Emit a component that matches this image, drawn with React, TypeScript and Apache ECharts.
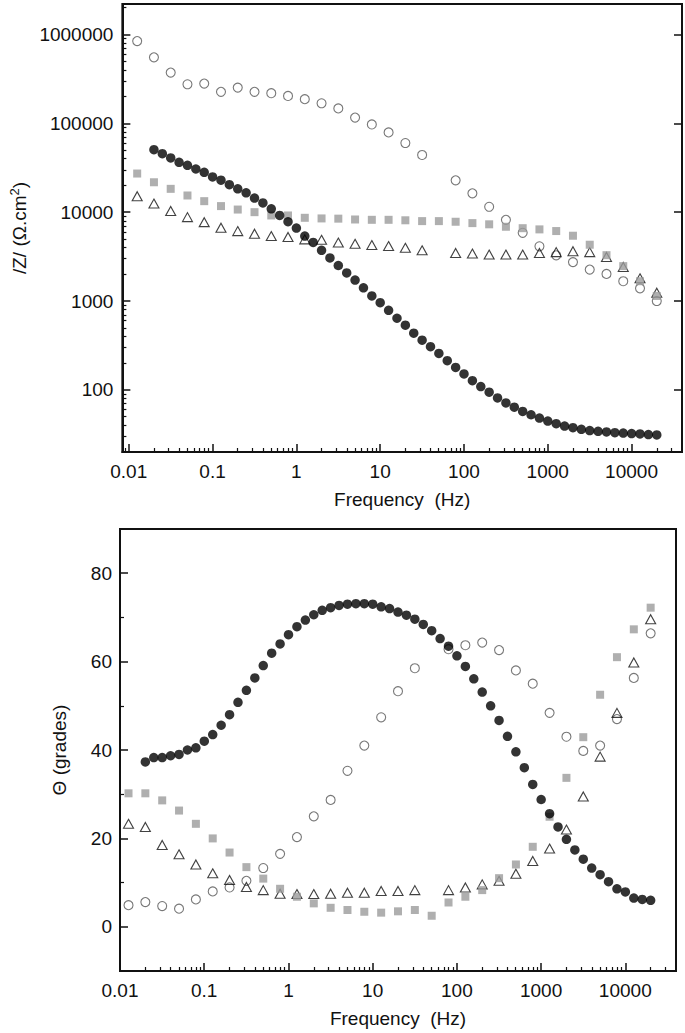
import React, { useEffect, useRef } from 'react';
import * as echarts from 'echarts';

// Frequencies (Hz)
const freqDense = [
  0.02, 0.02518, 0.0317, 0.03991, 0.05024, 0.06325, 0.07962, 0.1002, 0.1262, 0.1589,
  0.2, 0.2518, 0.317, 0.3991, 0.5024, 0.6325, 0.7962, 1.002, 1.262, 1.589,
  2, 2.518, 3.17, 3.991, 5.024, 6.325, 7.962, 10.02, 12.62, 15.89,
  20, 25.18, 31.7, 39.91, 50.24, 63.25, 79.62, 100.2, 126.2, 158.9,
  200, 251.8, 317, 399.1, 502.4, 632.5, 796.2, 1002, 1262, 1589,
  2000, 2518, 3170, 3991, 5024, 6325, 7962, 10020, 12620, 15890, 20000,
];
const freqSparse = [
  0.01262, 0.02, 0.0317, 0.05024, 0.07962, 0.1262, 0.2, 0.317, 0.5024, 0.7962,
  1.262, 2, 3.17, 5.024, 7.962, 12.62, 20, 31.7, 50.24, 79.62,
  126.2, 200, 317, 502.4, 796.2, 1262, 2000, 3170, 5024, 7962, 12620, 20000,
];

// |Z| (ohm.cm2)
const zFilled = [
  50400, 45500, 40700, 36400, 33700, 30600, 28100, 24900, 22900, 20400,
  18300, 16500, 14400, 12700, 10900, 9180, 7800, 6620, 5380, 4570,
  3720, 3050, 2510, 2070, 1720, 1410, 1140, 958, 787, 640,
  534, 435, 363, 306, 257, 213, 179, 151, 127, 109,
  94.1, 81.3, 71.4, 63.9, 57.2, 52.5, 48.2, 44.6, 41.6, 39.2,
  37.6, 36.0, 34.8, 34.2, 33.6, 33.0, 32.7, 32.2, 31.9, 31.4, 31.1,
];
const zOpenCircle = [
  841000, 552000, 372000, 275000, 280000, 226000, 252000, 226000, 218000, 203000,
  187000, 168000, 147000, 116000, 97000, 79000, 60000, 44000, null, 22800,
  16300, 11500, 8200, 5860, 4130, 3270, 2740, 2260, 2020, 1670, 1390, 1000,
];
const zSquare = [
  27200, 21700, 18300, 15400, 13300, 11700, 10700, 10000, 9180, 9180,
  8640, 8500, 8450, 8270, 8200, 8200, 8100, 7930, 7930, 7800,
  7530, 7300, 6850, 6600, 6400, 6130, 5430, 4300, 3280, 2470, 1670, 1140,
];
const zTriangle = [
  15100, 12500, 10300, 8790, 7720, 6670, 6120, 5710, 5380, 5250,
  4940, 4880, 4550, 4400, 4260, 4150, 3970, 3720, null, 3470,
  3420, 3330, 3330, 3330, 3470, 3550, 3630, 3550, 3130, 2420, 1800, 1240,
];

// Phase angle (grades)
const pFilled = [
  37.3, 38.3, 38.3, 38.7, 39.0, 40.0, 40.5, 42.0, 43.5, 45.6,
  48.0, 50.8, 53.5, 56.3, 59.1, 61.9, 64.0, 66.1, 67.9, 69.4,
  70.6, 71.6, 72.2, 72.7, 73.0, 73.1, 73.1, 73.0, 72.4, 72.0,
  71.2, 70.5, 69.6, 68.4, 67.0, 65.2, 63.5, 61.3, 58.9, 56.1,
  53.1, 50.0, 46.7, 43.1, 39.6, 36.0, 32.2, 28.8, 25.6, 22.6,
  19.8, 17.4, 15.3, 13.3, 11.8, 10.2, 8.6, 7.9, 6.5, 6.2, 6.0,
];
const pOpenCircle = [
  4.9, 5.6, 4.7, 4.1, 6.2, 8.0, 8.9, 10.4, 13.3, 16.5,
  20.3, 25.0, 28.7, 35.3, 41.0, 47.4, 53.3, 58.5, null, 62.8,
  63.7, 64.3, 62.6, 58.0, 55.0, 48.4, 43.0, 39.8, 41.0, 47.0, 56.3, 66.4,
];
const pSquare = [
  30.2, 30.2, 28.6, 26.3, 23.3, 20.0, 16.8, 13.5, 10.9, 8.6,
  6.8, 5.3, 4.3, 3.8, 3.4, 3.2, 3.5, 3.8, 2.5, 5.5,
  6.8, 8.3, 11.0, 14.1, 18.1, 24.9, 33.7, 42.9, 52.5, 61.0, 67.3, 72.2,
];
const pTriangle = [
  23.3, 22.6, 18.5, 16.4, 14.1, 12.1, 10.6, 9.0, 8.3, 7.5,
  7.4, 7.4, 7.5, 7.7, 7.7, 8.1, 8.1, 8.3, null, 8.3,
  8.9, 9.6, 10.4, 12.0, 14.9, 17.7, 22.0, 29.5, 38.5, 48.4, 59.8, 69.6,
];

// Ticks
const xMajor = [0.01, 0.1, 1, 10, 100, 1000, 10000];
const xTickLabels = ['0.01', '0.1', '1', '10', '100', '1000', '10000'];
const xMinor = [
  0.009, 0.02, 0.03, 0.04, 0.05, 0.06, 0.07, 0.08, 0.09,
  0.2, 0.3, 0.4, 0.5, 0.6, 0.7, 0.8, 0.9,
  2, 3, 4, 5, 6, 7, 8, 9,
  20, 30, 40, 50, 60, 70, 80, 90,
  200, 300, 400, 500, 600, 700, 800, 900,
  2000, 3000, 4000, 5000, 6000, 7000, 8000, 9000,
  20000, 30000,
];
const zMajor = [100, 1000, 10000, 100000, 1000000];
const zTickLabels = ['100', '1000', '10000', '100000', '1000000'];
const zMinor = [
  30, 40, 50, 60, 70, 80, 90,
  200, 300, 400, 500, 600, 700, 800, 900,
  2000, 3000, 4000, 5000, 6000, 7000, 8000, 9000,
  20000, 30000, 40000, 50000, 60000, 70000, 80000, 90000,
  200000, 300000, 400000, 500000, 600000, 700000, 800000, 900000,
  2000000,
];
const pMajor = [0, 20, 40, 60, 80];
const pTickLabels = ['0', '20', '40', '60', '80'];
const pMinor = [10, 30, 50, 70];

const pairs = (xs: number[], ys: (number | null)[]) => {
  const out: number[][] = [];
  xs.forEach((x, i) => {
    const y = ys[i];
    if (y !== null && y !== undefined) out.push([x, y]);
  });
  return out;
};

const logLabel = (ticks: number[], labels: string[]) => (v: number) => {
  let best = 0;
  let bd = Infinity;
  ticks.forEach((t, i) => {
    const d = Math.abs(Math.log10(v) - Math.log10(t));
    if (d < bd) {
      bd = d;
      best = i;
    }
  });
  return labels[best];
};

const FONT = '"Liberation Sans", Arial, Helvetica, sans-serif';
const TXT = { color: '#111', fontSize: 19, fontFamily: FONT };
const LINE = { color: '#111', width: 2 };

export default function App() {
  const ref = useRef<HTMLDivElement>(null);

  useEffect(() => {
    if (!ref.current) return;
    const chart = echarts.init(ref.current, undefined, { renderer: 'svg' });

    const xMain = (gridIndex: number, min: number, name: string) => ({
      type: 'log',
      logBase: 10,
      gridIndex,
      position: 'bottom',
      min,
      max: 40000,
      name,
      nameLocation: 'middle',
      nameGap: 38,
      nameTextStyle: { ...TXT },
      axisLine: { show: true, onZero: false, lineStyle: LINE },
      axisTick: { show: true, inside: true, length: 8, customValues: xMajor, lineStyle: { color: '#111', width: 1.5 } },
      axisLabel: { show: true, customValues: xMajor, margin: 10, formatter: logLabel(xMajor, xTickLabels), ...TXT },
      splitLine: { show: false },
    });
    const xMin = (gridIndex: number, min: number) => ({
      type: 'log',
      logBase: 10,
      gridIndex,
      position: 'bottom',
      min,
      max: 40000,
      axisLine: { show: false, onZero: false },
      axisTick: { show: true, inside: true, length: 4, customValues: xMinor.filter((v) => v >= min), lineStyle: { color: '#111', width: 1.2 } },
      axisLabel: { show: false },
      splitLine: { show: false },
    });

    const option: any = {
      animation: false,
      backgroundColor: '#fff',
      grid: [
        { left: 119, right: 3, top: 4, height: 448, show: true, borderColor: '#111', borderWidth: 2, backgroundColor: 'transparent' },
        { left: 120, right: 9, top: 529, height: 442, show: true, borderColor: '#111', borderWidth: 2, backgroundColor: 'transparent' },
      ],
      xAxis: [
        xMain(0, 0.0084, 'Frequency  (Hz)'),
        xMin(0, 0.0084),
        xMain(1, 0.01, 'Frequency  (Hz)'),
        xMin(1, 0.01),
      ],
      yAxis: [
        {
          type: 'log', logBase: 10, gridIndex: 0, position: 'left', min: 20, max: 2200000,
          name: '{a|/Z/ (Ω.cm}{s|2}{a|)}', nameLocation: 'middle', nameRotate: 90, nameGap: 88,
          nameTextStyle: {
            ...TXT,
            rich: {
              a: { ...TXT, lineHeight: 22 },
              s: { color: '#111', fontSize: 13, fontFamily: FONT, verticalAlign: 'top', lineHeight: 14 },
            },
          },
          axisLine: { show: true, onZero: false, lineStyle: LINE },
          axisTick: { show: true, inside: true, length: 8, customValues: zMajor, lineStyle: { color: '#111', width: 1.5 } },
          axisLabel: { show: true, customValues: zMajor, margin: 9, formatter: logLabel(zMajor, zTickLabels), ...TXT },
          splitLine: { show: false },
        },
        {
          type: 'log', logBase: 10, gridIndex: 0, position: 'left', min: 20, max: 2200000,
          axisLine: { show: false, onZero: false },
          axisTick: { show: true, inside: true, length: 4, customValues: zMinor, lineStyle: { color: '#111', width: 1.2 } },
          axisLabel: { show: false },
          splitLine: { show: false },
        },
        {
          type: 'log', logBase: 10, gridIndex: 0, position: 'right', min: 20, max: 2200000,
          axisLine: { show: true, onZero: false, lineStyle: LINE },
          axisTick: { show: true, inside: true, length: 8, customValues: zMajor, lineStyle: { color: '#111', width: 1.5 } },
          axisLabel: { show: false },
          splitLine: { show: false },
        },
        {
          type: 'value', gridIndex: 1, position: 'left', min: -10, max: 90,
          name: 'Θ (grades)', nameLocation: 'middle', nameRotate: 90, nameGap: 51,
          nameTextStyle: { ...TXT },
          axisLine: { show: true, onZero: false, lineStyle: LINE },
          axisTick: { show: true, inside: true, length: 8, customValues: pMajor, lineStyle: { color: '#111', width: 1.5 } },
          axisLabel: { show: true, customValues: pMajor, margin: 8, formatter: (v: number) => pTickLabels[pMajor.indexOf(Math.round(v))] ?? '', ...TXT },
          splitLine: { show: false },
        },
        {
          type: 'value', gridIndex: 1, position: 'left', min: -10, max: 90,
          axisLine: { show: false, onZero: false },
          axisTick: { show: true, inside: true, length: 4, customValues: pMinor, lineStyle: { color: '#111', width: 1.2 } },
          axisLabel: { show: false },
          splitLine: { show: false },
        },
      ],
      series: [
        // Top chart
        {
          type: 'scatter', xAxisIndex: 0, yAxisIndex: 0, data: pairs(freqSparse, zOpenCircle),
          symbol: 'circle', symbolSize: 9,
          itemStyle: { color: 'rgba(255,255,255,0)', borderColor: '#555', borderWidth: 1.1 },
        },
        {
          type: 'scatter', xAxisIndex: 0, yAxisIndex: 0, data: pairs(freqSparse, zTriangle),
          symbol: 'triangle', symbolSize: [10, 9],
          itemStyle: { color: 'rgba(255,255,255,0)', borderColor: '#111', borderWidth: 1.1 },
        },
        {
          type: 'scatter', xAxisIndex: 0, yAxisIndex: 0, data: pairs(freqSparse, zSquare),
          symbol: 'rect', symbolSize: 8,
          itemStyle: { color: '#9b9b9b' },
        },
        {
          type: 'scatter', xAxisIndex: 0, yAxisIndex: 0, data: pairs(freqDense, zFilled),
          symbol: 'circle', symbolSize: 9.5,
          itemStyle: { color: '#000' },
        },
        // Bottom chart
        {
          type: 'scatter', xAxisIndex: 2, yAxisIndex: 3, data: pairs(freqSparse, pOpenCircle),
          symbol: 'circle', symbolSize: 9,
          itemStyle: { color: 'rgba(255,255,255,0)', borderColor: '#555', borderWidth: 1.1 },
        },
        {
          type: 'scatter', xAxisIndex: 2, yAxisIndex: 3, data: pairs(freqSparse, pTriangle),
          symbol: 'triangle', symbolSize: [10, 9],
          itemStyle: { color: 'rgba(255,255,255,0)', borderColor: '#111', borderWidth: 1.1 },
        },
        {
          type: 'scatter', xAxisIndex: 2, yAxisIndex: 3, data: pairs(freqSparse, pSquare),
          symbol: 'rect', symbolSize: 8,
          itemStyle: { color: '#9b9b9b' },
        },
        {
          type: 'scatter', xAxisIndex: 2, yAxisIndex: 3, data: pairs(freqDense, pFilled),
          symbol: 'circle', symbolSize: 9.5,
          itemStyle: { color: '#000' },
        },
      ],
    };

    chart.setOption(option);
    return () => chart.dispose();
  }, []);

  return (
    <div
      ref={ref}
      style={{ position: 'absolute', left: 0, top: 0, width: 685, height: 1033, background: '#fff' }}
    />
  );
}
